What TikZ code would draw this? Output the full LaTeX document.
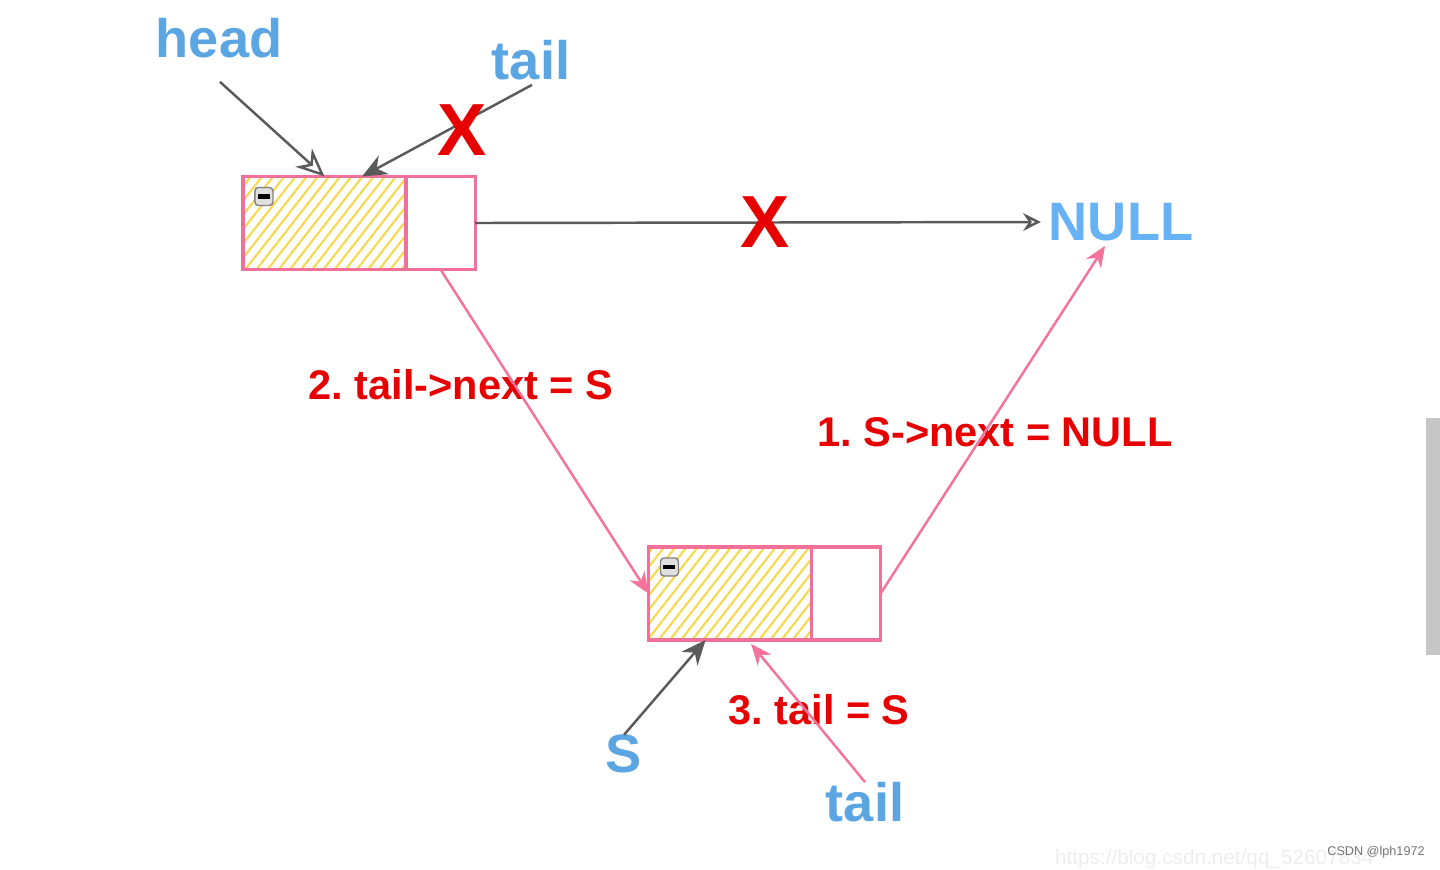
\documentclass[tikz,border=0pt]{standalone}
\usepackage{fontspec}
\setmainfont{Liberation Sans}
\usetikzlibrary{arrows.meta,patterns.meta,calc}
\definecolor{lblblue}{HTML}{5AA5E2}
\definecolor{nullblue}{HTML}{66B2F5}
\definecolor{stepred}{HTML}{E60000}
\definecolor{boxpink}{HTML}{F0709A}
\definecolor{linkpink}{HTML}{F5739A}
\definecolor{hatchyellow}{HTML}{F5D84C}
\definecolor{ptrgray}{HTML}{5A5A5A}
\frenchspacing
\begin{document}
\begin{tikzpicture}[x=0.01cm,y=-0.01cm,inner sep=0pt,outer sep=0pt,
databox/.style={draw=boxpink,line width=0.9pt,minimum width=1.63cm,minimum height=0.93cm,
  pattern={Lines[angle=52,distance=2.5pt,line width=0.6pt]},pattern color=hatchyellow},
ptrbox/.style={draw=boxpink,line width=0.9pt,fill=white,minimum width=0.69cm,minimum height=0.93cm},
minusicon/.style={draw=gray,fill=gray!25,rounded corners=1pt,minimum size=0.18cm,line width=0.4pt},
lbl/.style={text=lblblue,font=\fontsize{15.4}{18}\selectfont\bfseries},
steptxt/.style={text=stepred,font=\fontsize{11.8}{14}\selectfont\bfseries},
cross/.style={text=stepred,font=\fontsize{21}{21}\selectfont\bfseries},
grayptr/.style={draw=ptrgray,line width=0.7pt},
pinkptr/.style={draw=linkpink,line width=0.7pt,-{Stealth[length=6pt,width=5pt]}}]
\useasboundingbox (0,0) rectangle (1440,869);
% list nodes
\draw (324.5,223) node[databox] (d1) {};
\draw (d1.east) node[ptrbox,anchor=west] (p1) {};
\draw (730,593.5) node[databox] (d2) {};
\draw (d2.east) node[ptrbox,anchor=west] (p2) {};
\draw ([shift={(21,20)}]d1.north west) node[minusicon] (m1) {};
\draw ([shift={(21,20)}]d2.north west) node[minusicon] (m2) {};
\draw[line width=1.3pt] ([xshift=-0.06cm]m1.center) -- ([xshift=0.06cm]m1.center);
\draw[line width=1.3pt] ([xshift=-0.06cm]m2.center) -- ([xshift=0.06cm]m2.center);
% labels
\draw (219,38) node[lbl] (head) {head};
\draw (531,60) node[lbl] (tail1) {tail};
\draw (1121,222) node[lbl,text=nullblue] (null) {NULL};
\draw (624,754) node[lbl] (S) {S};
\draw (865,802) node[lbl] (tail2) {tail};
\draw (461,385) node[steptxt] (step2) {2. tail->next = S};
\draw (995,432) node[steptxt] (step1) {1. S->next = NULL};
\draw (819,710) node[steptxt] (step3) {3. tail = S};
% pointers
\path (head.south) ++(1,24) coordinate (head-from);
\path (tail1.south) ++(1,5) coordinate (tail1-from);
\draw[grayptr,-{Stealth[open,length=8pt,width=7pt]}] (head-from) -- (d1.north);
\draw[grayptr,-{Stealth[length=7pt,width=6pt]}] (tail1-from) -- ($(d1.north west)!0.73!(d1.north east)$);
\draw[grayptr,-{Stealth[open,length=5pt,width=5pt]},shorten >=0.08cm] (p1.east) -- (null.west);
\draw[pinkptr] (p1.south) -- (d2.west);
\draw[pinkptr] (p2.east) -- ($(null.south)+(-16,5)$);
\draw[grayptr,-{Stealth[length=7pt,width=6pt]}] (S.north) -- ($(d2.south west)!0.35!(d2.south east)$);
\draw[pinkptr,shorten >=0.05cm] (tail2.north) -- ($(d2.south west)!0.61!(d2.south east)$);
% crossed out links
\draw (462,130) node[cross] (x1) {X};
\draw (765,222) node[cross] (x2) {X};
% page bits
\fill[gray!45] (1426,418) rectangle (1440,655);
\draw (1055,864) node[anchor=base west,text=black!7,font=\fontsize{5.9}{6}\selectfont] (url) {https://blog.csdn.net/qq\_52607834};
\draw (1376,852) node[text=black!55,font=\fontsize{3.6}{4}\selectfont] (csdn) {CSDN @lph1972};
\end{tikzpicture}
\end{document}
